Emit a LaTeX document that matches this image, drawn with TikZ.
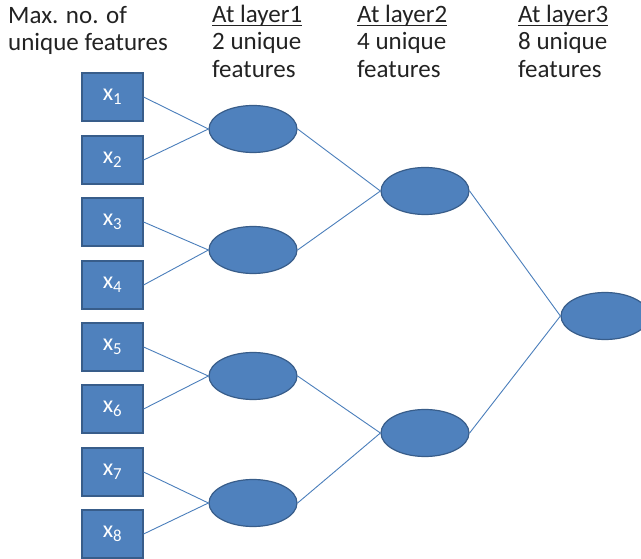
\documentclass[tikz,border=0pt]{standalone}
\usepackage{fontspec}
\setmainfont{Carlito}
\usetikzlibrary{shapes.geometric}
\definecolor{nodefill}{HTML}{4F81BD}
\definecolor{nodeedge}{HTML}{385D8A}
\definecolor{linkblue}{HTML}{4A7EBB}
\definecolor{inkgray}{HTML}{222222}
\begin{document}
\begin{tikzpicture}[x=1pt,y=-1pt,
  feat/.style={rectangle, fill=nodefill, draw=nodeedge, line width=1.2pt,
    minimum width=61pt, minimum height=48pt, inner sep=0pt, text=white,
    font=\fontsize{24}{28}\selectfont},
  unit/.style={ellipse, fill=nodefill, draw=nodeedge, line width=1.2pt,
    minimum width=88pt, minimum height=47pt, inner sep=0pt},
  link/.style={draw=linkblue, line width=0.9pt},
  head/.style={anchor=base west, inner sep=0pt, text=inkgray,
    font=\fontsize{25}{28}\selectfont},
  uline/.style={draw=inkgray, line width=1.1pt}]
\useasboundingbox (0,0) rectangle (641,559);

% column headings
\node[head] (h0a) at (8,24) {Max. no. of};
\node[head] (h0b) at (8,51) {unique features};
\node[head] (h1a) at (212,23) {At layer1};
\node[head] (h1b) at (212,50) {2 unique};
\node[head] (h1c) at (212,78) {features};
\node[head] (h2a) at (357,23) {At layer2};
\node[head] (h2b) at (357,50) {4 unique};
\node[head] (h2c) at (357,78) {features};
\node[head] (h3a) at (518,23) {At layer3};
\node[head] (h3b) at (518,50) {8 unique};
\node[head] (h3c) at (518,78) {features};
\foreach \h in {h1a,h2a,h3a}
  \draw[uline] ([yshift=-2.5pt]\h.base west) -- ([yshift=-2.5pt]\h.base east);

% input features
\foreach \i/\y in {1/97,2/160,3/222,4/285,5/347,6/409,7/472,8/534}
  \node[feat] (x\i) at (112.5,\y) {x\textsubscript{\i}};

% layer 1
\node[unit] (a1) at (253,129) {};
\node[unit] (a2) at (253,250) {};
\node[unit] (a3) at (253,376) {};
\node[unit] (a4) at (253,503) {};
% layer 2
\node[unit] (b1) at (425,191) {};
\node[unit] (b2) at (425,433) {};
% layer 3
\node[unit] (c1) at (605,316) {};

% connections
\foreach \i/\j in {1/1,2/1,3/2,4/2,5/3,6/3,7/4,8/4}
  \draw[link] (x\i.east) -- (a\j.west);
\foreach \i/\j in {1/1,2/1,3/2,4/2}
  \draw[link] (a\i.east) -- (b\j.west);
\foreach \i in {1,2}
  \draw[link] (b\i.east) -- (c1.west);
\end{tikzpicture}
\end{document}
